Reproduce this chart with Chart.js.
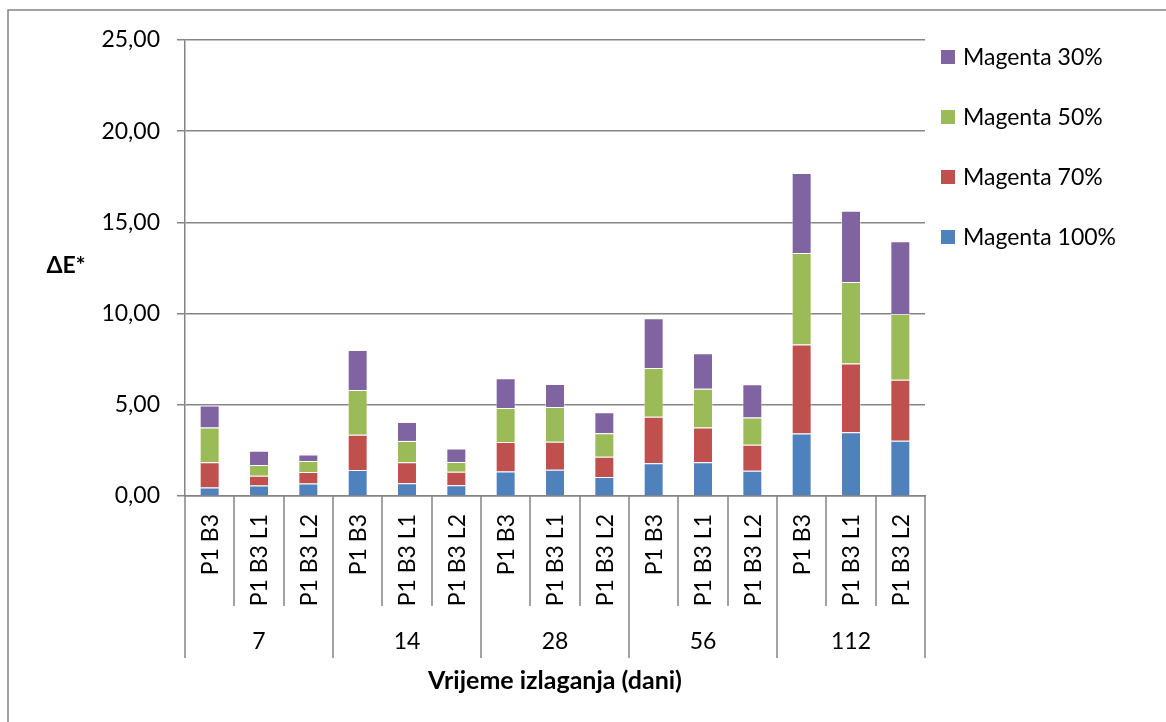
<!DOCTYPE html>
<html>
<head>
<meta charset="utf-8">
<script src="https://cdn.jsdelivr.net/npm/chart.js@4.4.1/dist/chart.umd.min.js"></script>
<style>
html,body{margin:0;padding:0;background:#fff;}
canvas{display:block;}
</style>
</head>
<body>
<canvas id="c" width="1166" height="722"></canvas>
<script>
// ---- data ----
const groups = ['7', '14', '28', '56', '112'];
const subLabels = ['P1 B3', 'P1 B3 L1', 'P1 B3 L2'];
const seriesNames = ['Magenta 100%', 'Magenta 70%', 'Magenta 50%', 'Magenta 30%'];
const magenta100 = [0.46, 0.57, 0.68, 1.43, 0.70, 0.59, 1.35, 1.44, 1.04, 1.79, 1.85, 1.39, 3.42, 3.49, 3.03];
const magenta70  = [1.39, 0.54, 0.64, 1.93, 1.15, 0.74, 1.61, 1.54, 1.11, 2.56, 1.90, 1.42, 4.88, 3.78, 3.35];
const magenta50  = [1.90, 0.59, 0.60, 2.45, 1.17, 0.53, 1.86, 1.90, 1.29, 2.67, 2.13, 1.50, 5.02, 4.46, 3.60];
const magenta30  = [1.21, 0.78, 0.35, 2.19, 1.04, 0.75, 1.63, 1.26, 1.15, 2.72, 1.94, 1.81, 4.39, 3.91, 3.98];
const yTicks = [0, 5, 10, 15, 20, 25];
const xTitle = 'Vrijeme izlaganja (dani)';
const yTitle = 'ΔE*';

// ---- build ----
const labels = [];
groups.forEach(g => subLabels.forEach(s => labels.push(s)));
const colors = ['#4F81BD', '#C0504D', '#9BBB59', '#8064A2'];
const values = [magenta100, magenta70, magenta50, magenta30];
const FONT = 'Lato, "Liberation Sans", sans-serif';
const FS = 23;
const GRID = '#848484';

const datasets = values.map((v, i) => ({
  label: seriesNames[i],
  data: v,
  backgroundColor: colors[i],
  borderColor: 'rgba(255,255,255,0.45)',
  borderWidth: 1,
  barPercentage: 0.405,
  categoryPercentage: 1.0
}));

const decor = {
  id: 'decor',
  afterDraw(chart) {
    const ctx = chart.ctx;
    const xs = chart.scales.x;
    const area = chart.chartArea;
    const n = labels.length;
    const slot = (area.right - area.left) / n;
    ctx.save();
    // outer frame (top & left)
    ctx.strokeStyle = GRID;
    ctx.lineWidth = 1.5;
    ctx.beginPath();
    ctx.moveTo(8, 722); ctx.lineTo(8, 10); ctx.lineTo(1166, 10);
    ctx.stroke();
    // category separators
    ctx.beginPath();
    for (let i = 0; i <= n; i++) {
      const x = Math.round(area.left + i * slot);
      const y2 = (i % subLabels.length === 0) ? 658 : 606;
      ctx.moveTo(x, area.bottom);
      ctx.lineTo(x, y2);
    }
    ctx.stroke();
    // inner labels (rotated)
    ctx.fillStyle = '#000';
    ctx.font = FS + 'px ' + FONT;
    ctx.textAlign = 'right';
    ctx.textBaseline = 'middle';
    labels.forEach((l, i) => {
      const x = xs.getPixelForValue(i);
      ctx.save();
      ctx.translate(x + 1, 514);
      ctx.rotate(-Math.PI / 2);
      ctx.fillText(l, 0, 0);
      ctx.restore();
    });
    // group labels
    ctx.textAlign = 'center';
    groups.forEach((g, gi) => {
      const x = area.left + (gi * subLabels.length + subLabels.length / 2) * slot;
      ctx.fillText(g, x, 642);
    });
    // axis titles
    ctx.font = 'bold 25px ' + FONT;
    ctx.fillText(xTitle, (area.left + area.right) / 2, 681);
    ctx.font = 'bold ' + FS + 'px ' + FONT;
    ctx.fillText(yTitle, 66, 266);
    // legend (reversed)
    ctx.font = FS + 'px ' + FONT;
    ctx.textAlign = 'left';
    const order = [3, 2, 1, 0];
    order.forEach((di, k) => {
      const cy = 57 + k * 60;
      ctx.fillStyle = colors[di];
      ctx.fillRect(941, cy - 7, 14, 14);
      ctx.fillStyle = '#000';
      ctx.fillText(seriesNames[di], 963, cy + 1);
    });
    ctx.restore();
  }
};

new Chart(document.getElementById('c'), {
  type: 'bar',
  data: { labels: labels, datasets: datasets },
  plugins: [decor],
  options: {
    responsive: false,
    animation: false,
    devicePixelRatio: 1,
    layout: { padding: { left: 0, top: 40, right: 241, bottom: 0 } },
    plugins: { legend: { display: false }, tooltip: { enabled: false } },
    scales: {
      x: {
        stacked: true,
        ticks: { display: false },
        grid: { display: false, drawTicks: false },
        border: { display: true, color: GRID, width: 1.5 },
        afterFit(scale) { scale.height = 722 - 496; }
      },
      y: {
        stacked: true,
        min: 0,
        max: 25,
        afterBuildTicks(scale) { scale.ticks = yTicks.map(v => ({ value: v })); },
        ticks: {
          color: '#000',
          font: { family: FONT, size: FS },
          padding: 17,
          callback: v => v.toFixed(2).replace('.', ',')
        },
        grid: { color: GRID, lineWidth: 1.5, tickLength: 8, drawTicks: true },
        border: { display: true, color: GRID, width: 1.5 },
        afterFit(scale) { scale.width = 185; }
      }
    }
  }
});
</script>
</body>
</html>
